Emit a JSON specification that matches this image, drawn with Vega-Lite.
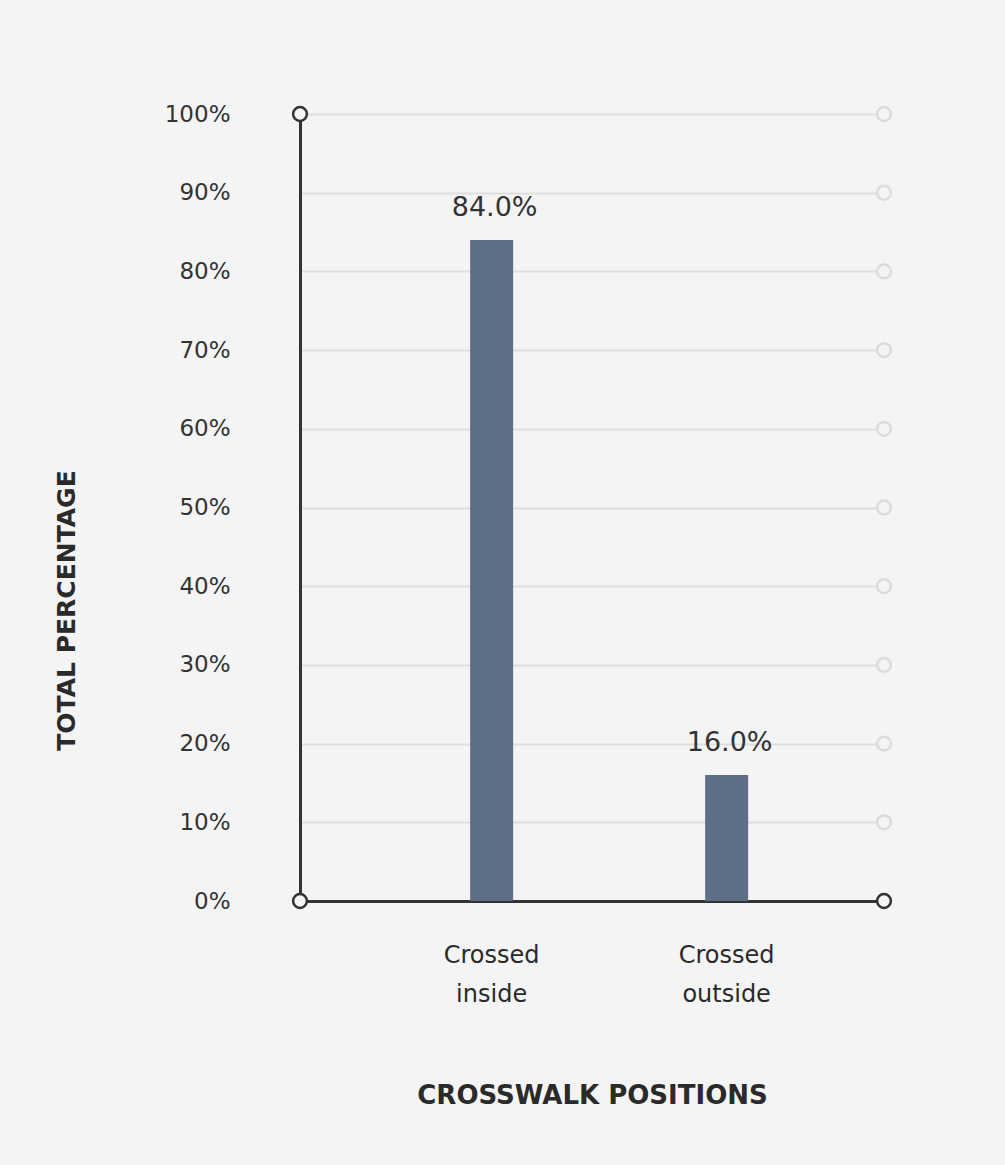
{
  "$schema": "https://vega.github.io/schema/vega-lite/v6.json",
  "width": 584,
  "height": 787,
  "autosize": "none",
  "padding": {"left": 300, "top": 114, "right": 121, "bottom": 264},
  "background": "#f4f4f4",
  "config": {
    "view": {"stroke": null},
    "font": "DejaVu Sans",
    "axis": {"labelFont": "DejaVu Sans", "titleFont": "DejaVu Sans"}
  },
  "data": {
    "values": [
      {"kind": "bar", "position": "Crossed inside", "pct": 84.0},
      {"kind": "bar", "position": "Crossed outside", "pct": 16.0},
      {"kind": "grid", "end": 1, "pct": 10},
      {"kind": "grid", "end": 1, "pct": 20},
      {"kind": "grid", "end": 1, "pct": 30},
      {"kind": "grid", "end": 1, "pct": 40},
      {"kind": "grid", "end": 1, "pct": 50},
      {"kind": "grid", "end": 1, "pct": 60},
      {"kind": "grid", "end": 1, "pct": 70},
      {"kind": "grid", "end": 1, "pct": 80},
      {"kind": "grid", "end": 1, "pct": 90},
      {"kind": "grid", "end": 1, "pct": 100},
      {"kind": "axis", "end": 0, "pct": 100},
      {"kind": "axis", "end": 0, "pct": 0},
      {"kind": "axis", "end": 1, "pct": 0}
    ]
  },
  "encoding": {
    "y": {
      "field": "pct",
      "type": "quantitative",
      "scale": {"domain": [0, 100], "nice": false, "zero": true},
      "axis": {
        "title": "TOTAL PERCENTAGE",
        "values": [0, 10, 20, 30, 40, 50, 60, 70, 80, 90, 100],
        "labelExpr": "datum.value + '%'",
        "labelFontSize": 23,
        "labelColor": "#333333",
        "labelPadding": 70,
        "ticks": false,
        "domain": true,
        "domainColor": "#333333",
        "domainWidth": 3,
        "grid": true,
        "gridColor": "#dedede",
        "gridWidth": 2,
        "titleFontSize": 25,
        "titleFontWeight": "bold",
        "titleColor": "#2a2a2a",
        "titleX": -226,
        "titleY": 496,
        "titleAngle": -90,
        "titleAlign": "center",
        "titleBaseline": "alphabetic"
      }
    }
  },
  "layer": [
    {
      "transform": [{"filter": "datum.kind == 'bar'"}],
      "encoding": {
        "x": {
          "field": "position",
          "type": "nominal",
          "sort": null,
          "scale": {"paddingInner": 0.817, "paddingOuter": 0.651, "align": 0.556},
          "axis": {
            "title": "CROSSWALK POSITIONS",
            "labelAngle": 0,
            "labelExpr": "split(datum.label, ' ')",
            "labelFontSize": 24,
            "labelLineHeight": 39,
            "labelColor": "#2a2a2a",
            "labelPadding": 42,
            "ticks": false,
            "domain": true,
            "domainColor": "#333333",
            "domainWidth": 3,
            "grid": false,
            "titleFontSize": 26,
            "titleFontWeight": "bold",
            "titleColor": "#2a2a2a",
            "titleY": 202,
            "titleBaseline": "alphabetic"
          }
        }
      },
      "layer": [
        {"mark": {"type": "bar", "color": "#5f6e87"}},
        {
          "mark": {"type": "text", "fontSize": 27, "color": "#333333", "baseline": "alphabetic", "dy": -24, "dx": 3,
                   "text": {"expr": "format(datum.pct, '.1f') + '%'"}}
        }
      ]
    },
    {
      "transform": [{"filter": "datum.kind != 'bar'"}],
      "mark": {"type": "point", "shape": "circle", "filled": false, "fill": "#f4f4f4", "fillOpacity": 1, "opacity": 1, "strokeWidth": 2.5, "size": 190},
      "encoding": {
        "x": {"field": "end", "type": "quantitative", "scale": {"domain": [0, 1], "nice": false}, "axis": null},
        "stroke": {"field": "kind", "type": "nominal", "scale": {"domain": ["axis", "grid"], "range": ["#333333", "#dcdcdc"]}, "legend": null}
      }
    }
  ],
  "resolve": {"scale": {"x": "independent"}}
}
